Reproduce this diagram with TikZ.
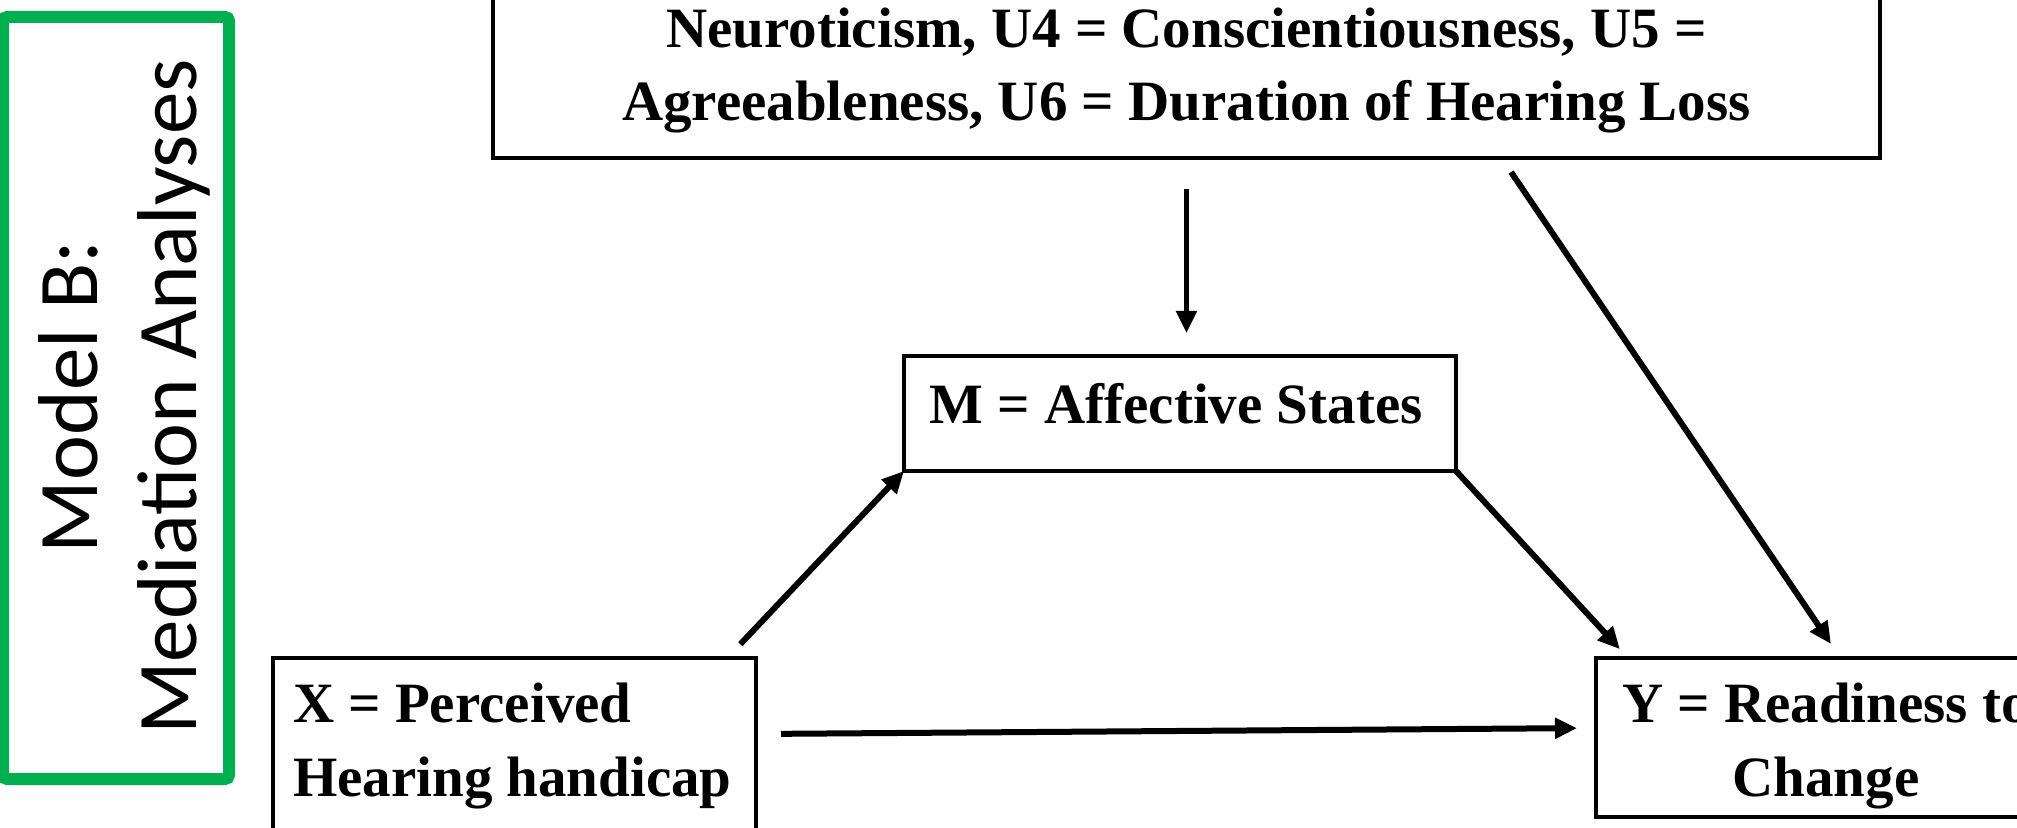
\documentclass[tikz,border=0pt]{standalone}
\usepackage{fontspec}
\setmainfont{Liberation Serif}
\newfontfamily\calibrifont{Carlito}
\usetikzlibrary{arrows.meta}
\definecolor{mygreen}{RGB}{0,176,80}
\begin{document}
\begin{tikzpicture}[x=0.5pt,y=-0.5pt,
  box/.style={draw=black, line width=2.25pt, rectangle, inner sep=0pt, outer sep=0pt},
  lbl/.style={inner sep=0pt, outer sep=0pt, font=\fontsize{28.5pt}{37pt}\selectfont\bfseries},
  arr/.style={line width=3pt, -{Triangle[length=11pt,width=10pt]}},
  greenbox/.style={draw=mygreen, line width=6pt, rounded corners=2pt, inner sep=0pt, outer sep=0pt},
]
\useasboundingbox (0,0) rectangle (2017,828);
\fill[white] (0,0) rectangle (2017,828);

% left label
\node[greenbox, minimum width=113pt, minimum height=381pt] (G) at (116,398) {};
\node[rotate=90, anchor=base, inner sep=0pt, font=\calibrifont\fontsize{42.5pt}{49.5pt}\selectfont] (Gt) at (97,397)
  {\begin{tabular}[t]{@{}c@{}}Model B:\\Mediation Analyses\end{tabular}};

% boxes
\node[box, minimum width=693.5pt, minimum height=109pt] (U) at (1186.5,49) {};
\node[box, minimum width=276pt, minimum height=57.5pt] (M) at (1180,413.5) {};
\node[box, minimum width=241.5pt, minimum height=91pt] (X) at (514.5,749) {};
\node[box, minimum width=230pt, minimum height=79.5pt] (Y) at (1826,737.5) {};

% texts
\node[lbl, anchor=base, font=\fontsize{28.5pt}{36.5pt}\selectfont\bfseries] (Ut) at (1186.5,48)
  {\begin{tabular}[t]{@{}c@{}}Neuroticism, U4 = Conscientiousness, U5 =\\Agreeableness, U6 = Duration of Hearing Loss\end{tabular}};
\node[lbl, anchor=base] (Mt) at (1176,423) {M = Affective States};
\node[lbl, anchor=base west] (Xt) at (293,722)
  {\begin{tabular}[t]{@{}l@{}}X = Perceived\\Hearing handicap\end{tabular}};
\node[lbl, anchor=base] (Yt) at (1826,722)
  {\begin{tabular}[t]{@{}c@{}}Y = Readiness to\\Change\end{tabular}};

% connectors
\draw[arr, line width=2.5pt, shorten <=15.5pt, shorten >=11.5pt] (U.south) -- (U.south |- M.north);
\draw[arr, shorten <=8.5pt, shorten >=8.5pt] ([xshift=157.5pt]U.south) -- ([xshift=7.25pt]Y.north);
\draw[arr, shorten >=6pt] (M.south east) -- ([xshift=16pt]Y.north west);
\draw[arr, shorten <=9.5pt] ([xshift=-14.35pt]X.north east) -- (M.south west);
\draw[arr, shorten <=12.5pt, shorten >=9.5pt] ([yshift=7.5pt]X.east) -- ([yshift=4.75pt]Y.west);
\end{tikzpicture}
\end{document}
